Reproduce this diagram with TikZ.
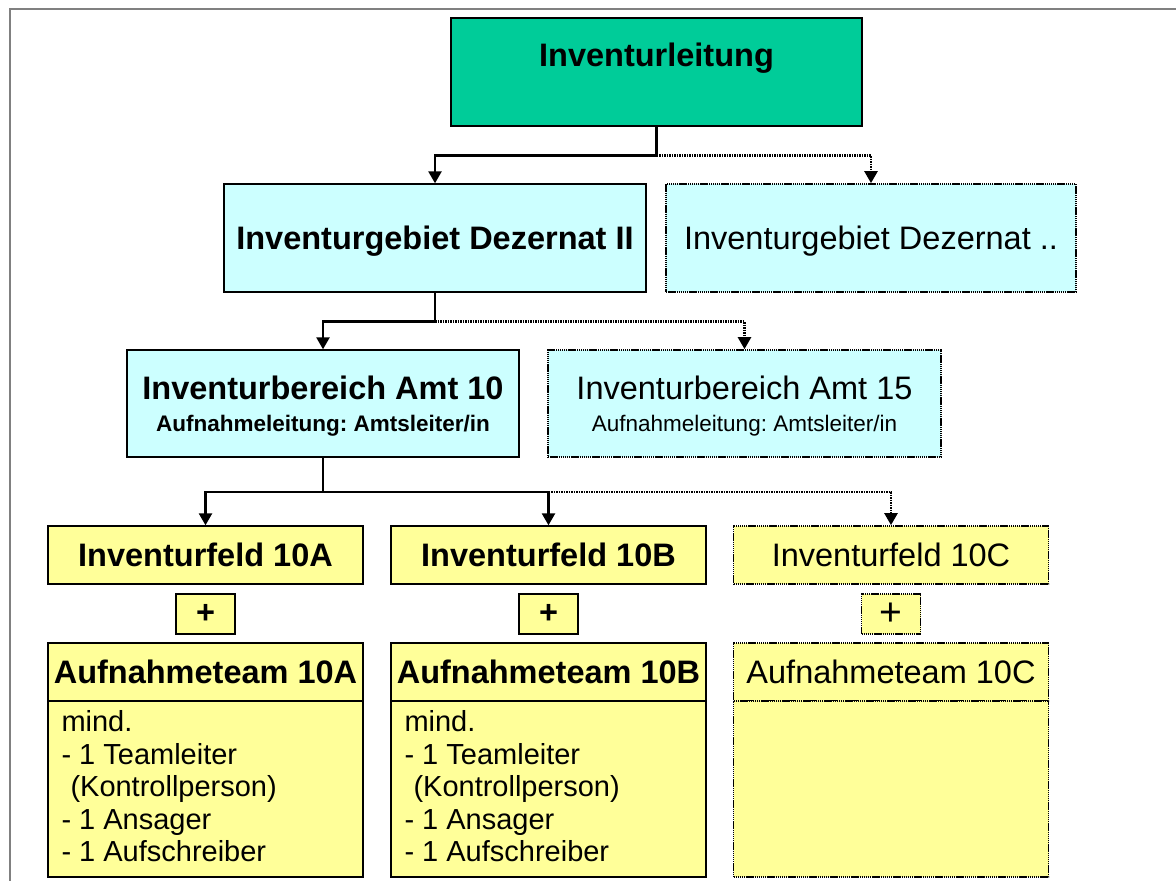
\documentclass[tikz,border=0pt]{standalone}
\usepackage{fontspec}
\setmainfont{Liberation Sans}
\usetikzlibrary{arrows.meta,calc}
\definecolor{leadgreen}{RGB}{0,204,153}
\definecolor{cyanbg}{RGB}{204,255,255}
\definecolor{yellowbg}{RGB}{255,255,153}
\definecolor{framegray}{RGB}{128,128,128}
\frenchspacing
\tikzset{
  bx/.style={draw=black, line width=1.4pt, inner sep=0pt, anchor=center, align=center,
             text depth=0pt, font=\fontsize{32.5}{32}\selectfont},
  dotbx/.style={bx, line width=1.7pt, dash pattern=on 1.4pt off 0.7pt},
  cyanbx/.style={fill=cyanbg},
  yelbx/.style={fill=yellowbg},
  bodytxt/.style={inner sep=0pt, align=left, anchor=north west, font=\fontsize{29}{32.5}\selectfont},
  conn/.style={line width=2.5pt, -{Triangle[length=12pt,width=13pt]}},
  dotconn/.style={conn, dash pattern=on 1.6pt off 0.9pt},
  boldtxt/.style={font=\fontsize{32.5}{32}\selectfont\bfseries}
}
\begin{document}
\begin{tikzpicture}[x=1pt,y=-1pt]
\useasboundingbox (0,0) rectangle (1176,881);
\draw[framegray, line width=2pt] (10,881) -- (10,9) -- (1176,9);

% level 0
\node[bx, fill=leadgreen, minimum width=411pt, minimum height=108pt,
      label={[font=\fontsize{32.5}{32}\selectfont\bfseries, anchor=base, yshift=-49pt]north:Inventurleitung}]
      (lead) at (656.5,72) {};

% level 1
\node[bx, cyanbx, boldtxt, minimum width=422pt, minimum height=108pt]
      (dz2) at (435,238) {Inventurgebiet Dezernat II};
\node[dotbx, cyanbx, minimum width=410pt, minimum height=108pt]
      (dzx) at (871,238) {Inventurgebiet Dezernat ..};

% level 2
\node[bx, cyanbx, minimum width=392pt, minimum height=107pt]
      (amt10) at (323,403.5) {{\bfseries Inventurbereich Amt 10}\\[0pt]{\fontsize{22.5}{26}\selectfont\bfseries Aufnahmeleitung: Amtsleiter/in}};
\node[dotbx, cyanbx, minimum width=393pt, minimum height=107pt]
      (amt15) at (744.5,403.5) {Inventurbereich Amt 15\\[0pt]{\fontsize{22.5}{26}\selectfont Aufnahmeleitung: Amtsleiter/in}};

% level 3: fields
\node[bx, yelbx, boldtxt, minimum width=315pt, minimum height=58pt]
      (feldA) at (205.5,555) {Inventurfeld 10A};
\node[bx, yelbx, boldtxt, minimum width=315pt, minimum height=58pt]
      (feldB) at (548.5,555) {Inventurfeld 10B};
\node[dotbx, yelbx, minimum width=315pt, minimum height=58pt]
      (feldC) at (891,555) {Inventurfeld 10C};

% plus boxes
\node[bx, yelbx, boldtxt, minimum width=59pt, minimum height=40pt]
      (plusA) at (205.5,614) {+};
\node[bx, yelbx, boldtxt, minimum width=59pt, minimum height=40pt]
      (plusB) at (548.5,614) {+};
\node[dotbx, yelbx, minimum width=59pt, minimum height=40pt, font=\fontsize{39}{39}\selectfont]
      (plusC) at (891,614) {+};

% teams: header
\node[bx, yelbx, boldtxt, minimum width=315pt, minimum height=58pt]
      (teamAh) at (205.5,672) {Aufnahmeteam 10A};
\node[bx, yelbx, boldtxt, minimum width=315pt, minimum height=58pt]
      (teamBh) at (548.5,672) {Aufnahmeteam 10B};
\node[dotbx, yelbx, minimum width=315pt, minimum height=58pt]
      (teamCh) at (891,672) {Aufnahmeteam 10C};
% teams: body
\node[bx, yelbx, minimum width=315pt, minimum height=176pt] (teamAb) at (205.5,789) {};
\node[bx, yelbx, minimum width=315pt, minimum height=176pt] (teamBb) at (548.5,789) {};
\node[dotbx, yelbx, minimum width=315pt, minimum height=176pt] (teamCb) at (891,789) {};

\node[bodytxt] (teamAt) at ([xshift=14pt, yshift=-10pt]teamAb.north west)
  {mind.\\- 1 Teamleiter\\\hspace*{9pt}(Kontrollperson)\\- 1 Ansager\\- 1 Aufschreiber};
\node[bodytxt] (teamBt) at ([xshift=14pt, yshift=-10pt]teamBb.north west)
  {mind.\\- 1 Teamleiter\\\hspace*{9pt}(Kontrollperson)\\- 1 Ansager\\- 1 Aufschreiber};

% connectors
\coordinate (j1) at ([yshift=-29pt]lead.south);
\draw[conn] (lead.south) -- (j1) -| (dz2.north);
\draw[dotconn] (j1) -| (dzx.north);

\coordinate (j2) at ([yshift=-29pt]dz2.south);
\draw[conn] (dz2.south) -- (j2) -| (amt10.north);
\draw[dotconn] (j2) -| (amt15.north);

\coordinate (j3) at ([yshift=-34.5pt]amt10.south);
\coordinate (j3b) at (j3 -| feldB.north);
\draw[conn] (amt10.south) -- (j3) -| (feldA.north);
\draw[conn] (j3) -| (feldB.north);
\draw[dotconn] (j3b) -| (feldC.north);
\end{tikzpicture}
\end{document}
